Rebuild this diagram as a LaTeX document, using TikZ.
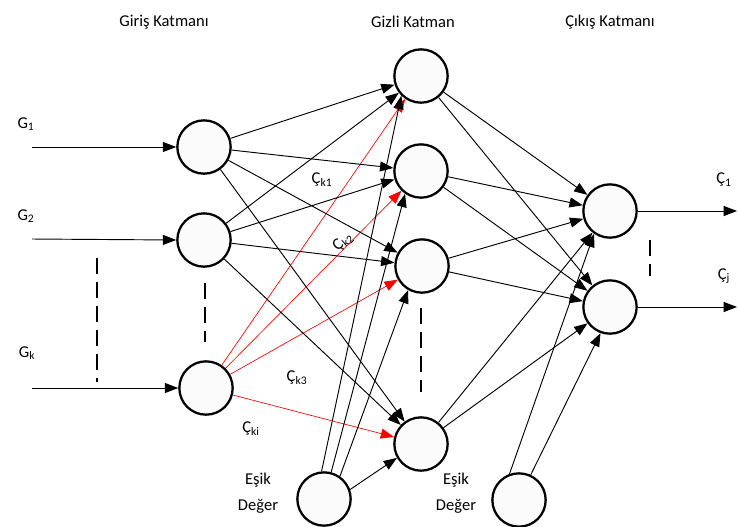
\documentclass[tikz,border=0pt]{standalone}
\usepackage{fontspec}
\setmainfont{Carlito}
\usetikzlibrary{arrows.meta,positioning}

\tikzset{
	neuron/.style={circle, draw=black, line width=1.7pt, minimum size=40pt, inner sep=0pt, fill=gray!3},
	wire/.style={-{Triangle[length=10pt,width=7.5pt]}, line width=0.7pt},
	redwire/.style={wire, draw=red, line width=0.5pt},
	gapline/.style={line width=1.2pt, dash pattern=on 12pt off 6pt},
	caption/.style={inner sep=0pt, font=\fontsize{12.4}{15}\selectfont},
	biaslabel/.style={caption, align=center, font=\fontsize{12.4}{19.5}\selectfont},
}

\begin{document}
\begin{tikzpicture}[x=0.75pt, y=-0.75pt]
	\useasboundingbox (0,0) rectangle (738,526);
	% Define nodes
	\node[neuron] (i1) at (204,147) {};
	\node[neuron] (i2) at (204,240) {};
	\node[neuron] (ik) at (206,388) {};
	\node[neuron] (h1) at (421,76)  {};
	\node[neuron] (h2) at (421,171) {};
	\node[neuron] (h3) at (422,266) {};
	\node[neuron] (h4) at (421,444) {};
	\node[neuron] (o1) at (610,211) {};
	\node[neuron] (o2) at (610,307) {};
	\node[neuron] (b1) at (324,499) {};
	\node[neuron] (b2) at (519,500) {};
	% Layer titles
	\node[caption] (tin)  at (164,22) {Giriş Katmanı};
	\node[caption] (thid) at (413,22) {Gizli Katman};
	\node[caption] (tout) at (610,22) {Çıkış Katmanı};
	% Inputs and outputs
	\coordinate (g1) at (32,147);
	\coordinate (g2) at (32,239);
	\coordinate (gk) at (32,388);
	\coordinate (c1) at (737,211);
	\coordinate (cj) at (737,307);
	\node[caption] (lg1) at (26,124) {G\textsubscript{1}};
	\node[caption] (lg2) at (26,216) {G\textsubscript{2}};
	\node[caption] (lgk) at (27,353) {G\textsubscript{k}};
	\node[caption] (lc1) at (724,180) {Ç\textsubscript{1}};
	\node[caption] (lcj) at (724,276) {Ç\textsubscript{j}};
	% Weight labels
	\node[caption] (wk1) at (322,180) {Ç\textsubscript{k1}};
	\node[caption, rotate=40] (wk2) at (343,242) {Ç\textsubscript{k2}};
	\node[caption] (wk3) at (297,378) {Ç\textsubscript{k3}};
	\node[caption] (wki) at (251,429) {Ç\textsubscript{ki}};
	\node[biaslabel] (eb1) at (258,493) {Eşik\\Değer};
	\node[biaslabel] (eb2) at (456,493) {Eşik\\Değer};
	% Connect the nodes
	\draw[wire] (g1) -- (i1);
	\draw[wire] (g2) -- (i2.west);
	\draw[wire] (gk) -- (ik);
	\foreach \h in {h1,h2,h3,h4} {
		\draw[wire] (i1) -- (\h);
		\draw[wire] (i2) -- (\h);
		\draw[redwire] (ik) -- (\h);
		\draw[wire] (\h) -- (o1);
		\draw[wire] (\h) -- (o2);
	}
	\draw[wire] (b1.95) -- (h1.225);
	\draw[wire] (b1.75) -- (h2.235);
	\draw[wire] (b1.55) -- (h3.240);
	\draw[wire] (b1.20) -- (h4.210);
	\draw[wire] (b2.110) -- (o1.235);
	\draw[wire] (b2.65) -- (o2.250);
	\draw[wire] (o1) -- (c1);
	\draw[wire] (o2) -- (cj);
	% Elided units
	\draw[gapline] (97,258) -- (97,382);
	\draw[gapline] (205,283) -- (205,342);
	\draw[gapline] (421,308) -- (421,392);
	\draw[gapline] (650,240) -- (650,276);
\end{tikzpicture}
\end{document}
